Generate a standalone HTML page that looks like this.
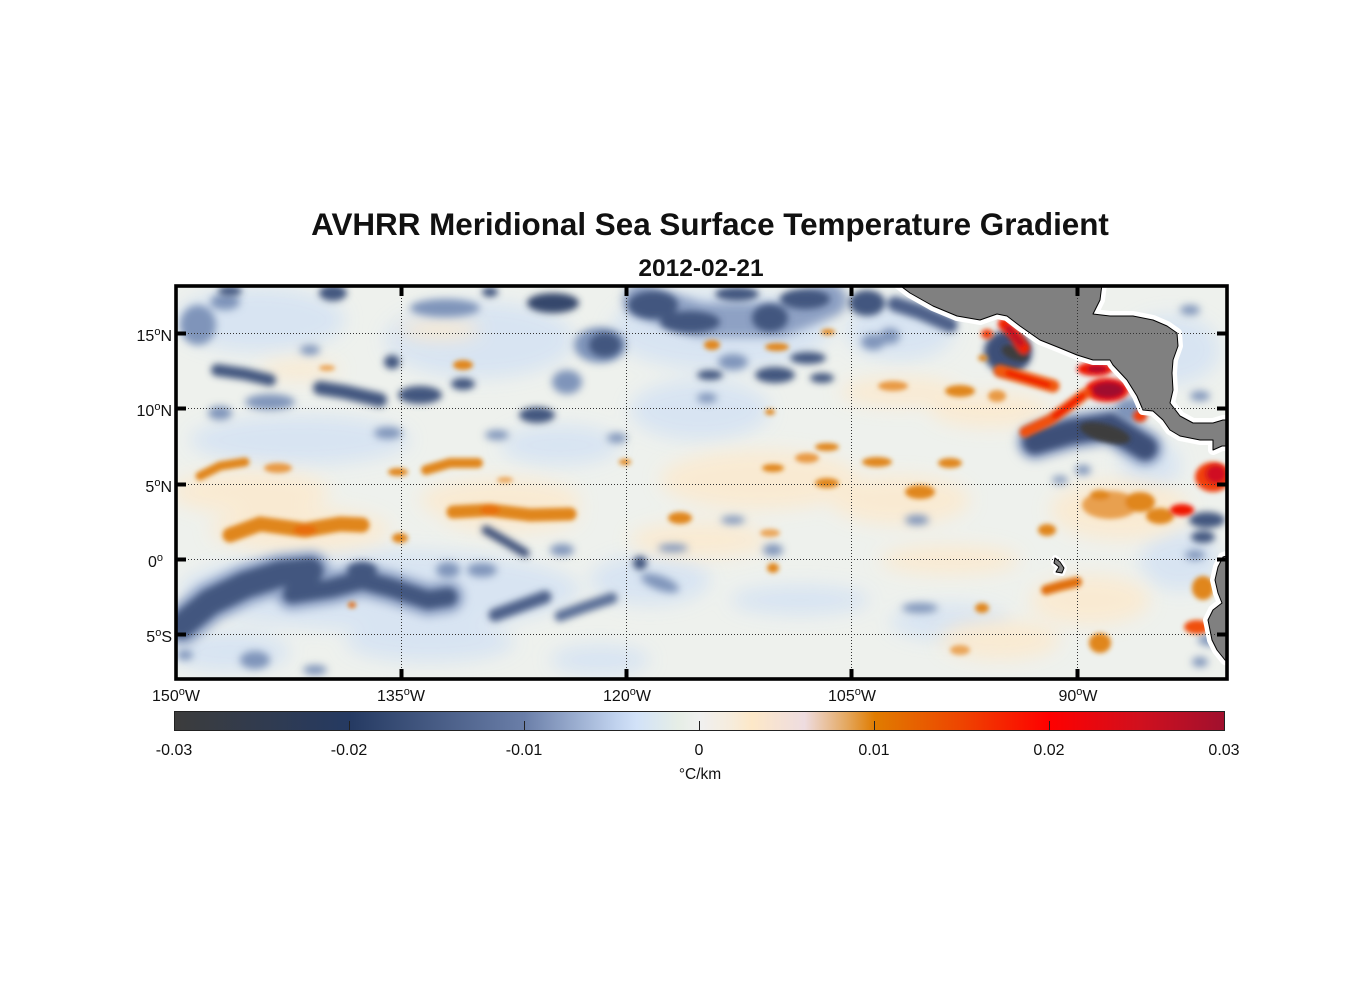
<!DOCTYPE html>
<html>
<head>
<meta charset="utf-8">
<style>
html,body{margin:0;padding:0;background:#fff;}
svg{display:block;}
text{font-family:"Liberation Sans",Arial,sans-serif;fill:#111;}
</style>
</head>
<body>
<svg width="1356" height="1000" viewBox="0 0 1356 1000" xmlns="http://www.w3.org/2000/svg">
<defs>
  <clipPath id="mapclip"><rect x="176" y="286" width="1051" height="393"/></clipPath>
  <filter id="b8" x="-50%" y="-50%" width="200%" height="200%"><feGaussianBlur stdDeviation="9"/></filter>
  <filter id="b5" x="-50%" y="-50%" width="200%" height="200%"><feGaussianBlur stdDeviation="5"/></filter>
  <filter id="b4" x="-50%" y="-50%" width="200%" height="200%"><feGaussianBlur stdDeviation="4"/></filter>
  <filter id="b3" x="-50%" y="-50%" width="200%" height="200%"><feGaussianBlur stdDeviation="3.5"/></filter>
  <filter id="b2" x="-50%" y="-50%" width="200%" height="200%"><feGaussianBlur stdDeviation="2.3"/></filter>
  <linearGradient id="cmap" x1="0" x2="1" y1="0" y2="0">
    <stop offset="0" stop-color="#3c3c3c"/>
    <stop offset="0.167" stop-color="#253a62"/>
    <stop offset="0.333" stop-color="#6a7ea8"/>
    <stop offset="0.42" stop-color="#c0d2ee"/>
    <stop offset="0.44" stop-color="#d2e2f8"/>
    <stop offset="0.48" stop-color="#e6eee6"/>
    <stop offset="0.5" stop-color="#f0f0f0"/>
    <stop offset="0.53" stop-color="#f6ecdc"/>
    <stop offset="0.55" stop-color="#fde8c8"/>
    <stop offset="0.6" stop-color="#eedce0"/>
    <stop offset="0.64" stop-color="#e4a860"/>
    <stop offset="0.667" stop-color="#e07c00"/>
    <stop offset="0.75" stop-color="#ee4400"/>
    <stop offset="0.833" stop-color="#ff0000"/>
    <stop offset="0.92" stop-color="#d0101e"/>
    <stop offset="1" stop-color="#a0102e"/>
  </linearGradient>
</defs>

<!-- Title -->
<text x="710" y="235" text-anchor="middle" font-size="31.4" font-weight="bold">AVHRR Meridional Sea Surface Temperature Gradient</text>
<text x="701" y="276" text-anchor="middle" font-size="24.5" font-weight="bold">2012-02-21</text>

<g clip-path="url(#mapclip)">
  <rect x="176" y="286" width="1051" height="393" fill="#eef1ed"/>

  <!-- broad light blue -->
  <g filter="url(#b8)" fill="#d6e3f3" opacity="0.9">
    <ellipse cx="260" cy="320" rx="85" ry="32"/>
    <ellipse cx="480" cy="340" rx="95" ry="38"/>
    <ellipse cx="300" cy="440" rx="110" ry="25"/>
    <ellipse cx="700" cy="410" rx="70" ry="30"/>
    <ellipse cx="560" cy="445" rx="60" ry="20"/>
    <ellipse cx="900" cy="330" rx="55" ry="30"/>
    <ellipse cx="230" cy="652" rx="60" ry="20"/>
    <ellipse cx="430" cy="642" rx="85" ry="20"/>
    <ellipse cx="800" cy="600" rx="70" ry="15"/>
    <ellipse cx="950" cy="622" rx="60" ry="18"/>
    <ellipse cx="1150" cy="465" rx="30" ry="25"/>
    <ellipse cx="1180" cy="560" rx="40" ry="30"/>
    <ellipse cx="600" cy="660" rx="50" ry="15"/>
    <ellipse cx="380" cy="590" rx="200" ry="40"/>
    <ellipse cx="1170" cy="350" rx="50" ry="35"/>
    <ellipse cx="650" cy="580" rx="60" ry="25"/>
    <ellipse cx="720" cy="330" rx="110" ry="40"/>
  </g>
  <!-- broad cream -->
  <g filter="url(#b8)" fill="#fbead0" opacity="0.9">
    <ellipse cx="250" cy="492" rx="80" ry="22"/>
    <ellipse cx="500" cy="500" rx="80" ry="22"/>
    <ellipse cx="760" cy="480" rx="100" ry="30"/>
    <ellipse cx="900" cy="500" rx="70" ry="25"/>
    <ellipse cx="1120" cy="510" rx="70" ry="30"/>
    <ellipse cx="700" cy="540" rx="70" ry="18"/>
    <ellipse cx="950" cy="560" rx="70" ry="15"/>
    <ellipse cx="1000" cy="640" rx="60" ry="20"/>
    <ellipse cx="300" cy="370" rx="40" ry="10"/>
    <ellipse cx="440" cy="330" rx="40" ry="10"/>
    <ellipse cx="900" cy="392" rx="60" ry="15"/>
    <ellipse cx="990" cy="410" rx="60" ry="18"/>
    <ellipse cx="300" cy="530" rx="90" ry="22"/>
    <ellipse cx="510" cy="515" rx="70" ry="18"/>
    <ellipse cx="1090" cy="600" rx="60" ry="25"/>
  </g>

  <!-- soft underlay for dark bands -->
  <g filter="url(#b5)" fill="none" stroke="#8ea1c4" stroke-linecap="round">
    <polyline points="182,625 210,602 245,585 280,574 310,571" stroke-width="40"/>
    <polyline points="292,594 332,588 362,580 392,588 428,600 448,597" stroke-width="32"/>
    <polyline points="1035,442 1070,432 1110,426 1145,448" stroke-width="36"/>
    <polyline points="640,300 700,320 780,320 830,300" stroke-width="34"/>
  </g>

  <!-- medium blue -->
  <g filter="url(#b4)" fill="#7f94ba">
    <ellipse cx="198" cy="325" rx="18" ry="20"/>
    <ellipse cx="225" cy="302" rx="15" ry="8"/>
    <ellipse cx="310" cy="350" rx="10" ry="5"/>
    <ellipse cx="270" cy="402" rx="25" ry="8"/>
    <ellipse cx="220" cy="413" rx="12" ry="7"/>
    <ellipse cx="388" cy="433" rx="14" ry="6"/>
    <ellipse cx="497" cy="435" rx="12" ry="5"/>
    <ellipse cx="567" cy="382" rx="15" ry="12"/>
    <ellipse cx="617" cy="438" rx="10" ry="5"/>
    <ellipse cx="707" cy="398" rx="10" ry="5"/>
    <ellipse cx="733" cy="362" rx="15" ry="8"/>
    <ellipse cx="873" cy="342" rx="12" ry="8"/>
    <ellipse cx="890" cy="336" rx="10" ry="8"/>
    <ellipse cx="1190" cy="310" rx="10" ry="5"/>
    <ellipse cx="1200" cy="396" rx="10" ry="5"/>
    <ellipse cx="1083" cy="470" rx="8" ry="5"/>
    <ellipse cx="660" cy="583" rx="20" ry="7" transform="rotate(20 660 583)"/>
    <ellipse cx="673" cy="548" rx="15" ry="4"/>
    <ellipse cx="733" cy="520" rx="12" ry="4"/>
    <ellipse cx="773" cy="550" rx="10" ry="6"/>
    <ellipse cx="917" cy="520" rx="12" ry="5"/>
    <ellipse cx="920" cy="608" rx="18" ry="5"/>
    <ellipse cx="185" cy="655" rx="8" ry="5"/>
    <ellipse cx="255" cy="660" rx="15" ry="9"/>
    <ellipse cx="315" cy="670" rx="12" ry="5"/>
    <ellipse cx="1210" cy="640" rx="12" ry="6"/>
    <ellipse cx="1200" cy="662" rx="8" ry="5"/>
    <ellipse cx="448" cy="570" rx="12" ry="8"/>
    <ellipse cx="482" cy="570" rx="15" ry="7"/>
    <ellipse cx="562" cy="550" rx="12" ry="6"/>
    <ellipse cx="445" cy="308" rx="35" ry="9"/>
    <ellipse cx="600" cy="345" rx="26" ry="18"/>
    <ellipse cx="1130" cy="410" rx="15" ry="12"/>
    <ellipse cx="1195" cy="555" rx="10" ry="5"/>
    <ellipse cx="1060" cy="480" rx="8" ry="4"/>
  </g>

  <!-- dark blue -->
  <g filter="url(#b3)" fill="#43577f">
    <ellipse cx="333" cy="293" rx="14" ry="8"/>
    <ellipse cx="230" cy="291" rx="12" ry="5"/>
    <polyline points="217,370 245,374 270,380" fill="none" stroke="#43577f" stroke-width="12" stroke-linecap="round"/>
    <polyline points="320,388 345,392 380,400" fill="none" stroke="#43577f" stroke-width="14" stroke-linecap="round"/>
    <ellipse cx="392" cy="362" rx="8" ry="7"/>
    <ellipse cx="420" cy="395" rx="22" ry="9"/>
    <ellipse cx="463" cy="384" rx="12" ry="6"/>
    <ellipse cx="553" cy="303" rx="26" ry="10" fill="#34476c"/>
    <ellipse cx="490" cy="292" rx="8" ry="5"/>
    <ellipse cx="537" cy="415" rx="18" ry="8"/>
    <ellipse cx="605" cy="345" rx="16" ry="12"/>
    <ellipse cx="653" cy="305" rx="25" ry="14"/>
    <ellipse cx="690" cy="322" rx="30" ry="11"/>
    <ellipse cx="737" cy="294" rx="22" ry="7"/>
    <ellipse cx="770" cy="318" rx="18" ry="14"/>
    <ellipse cx="805" cy="299" rx="25" ry="10"/>
    <ellipse cx="710" cy="375" rx="13" ry="5"/>
    <ellipse cx="775" cy="375" rx="20" ry="8"/>
    <ellipse cx="808" cy="358" rx="18" ry="6"/>
    <ellipse cx="822" cy="378" rx="12" ry="5"/>
    <ellipse cx="867" cy="303" rx="18" ry="13"/>
    <polyline points="895,304 920,312 950,325" fill="none" stroke="#4d6189" stroke-width="15" stroke-linecap="round"/>
    <ellipse cx="1008" cy="352" rx="24" ry="22" fill="#3d5078"/>
    <polyline points="1035,442 1070,432 1110,426 1145,448" fill="none" stroke="#3d5078" stroke-width="24" stroke-linecap="round"/>
    <ellipse cx="1207" cy="520" rx="18" ry="8"/>
    <ellipse cx="1203" cy="537" rx="12" ry="6"/>
    <polyline points="182,625 210,602 245,585 280,574 310,571" fill="none" stroke="#43577f" stroke-width="26" stroke-linecap="round"/>
    <polyline points="292,594 332,588 362,580 392,588 428,600 448,597" fill="none" stroke="#43577f" stroke-width="18" stroke-linecap="round"/>
    <ellipse cx="362" cy="570" rx="15" ry="8"/>
    <polyline points="495,615 520,606 545,597" fill="none" stroke="#4d6189" stroke-width="13" stroke-linecap="round"/>
    <polyline points="560,616 585,607 612,598" fill="none" stroke="#5b6f97" stroke-width="11" stroke-linecap="round"/>
    <polyline points="486,530 505,541 525,553" fill="none" stroke="#3d5078" stroke-width="9" stroke-linecap="round"/>
    <ellipse cx="640" cy="563" rx="7" ry="7"/>
  </g>

  <!-- orange family -->
  <g filter="url(#b2)" fill="#e0861c">
    <ellipse cx="463" cy="365" rx="10" ry="5"/>
    <ellipse cx="712" cy="345" rx="8" ry="5"/>
    <ellipse cx="777" cy="347" rx="12" ry="4"/>
    <ellipse cx="828" cy="332" rx="7" ry="3"/>
    <ellipse cx="893" cy="386" rx="15" ry="5" fill="#e89a45"/>
    <ellipse cx="960" cy="391" rx="15" ry="6"/>
    <ellipse cx="997" cy="396" rx="9" ry="6" fill="#e89a45"/>
    <ellipse cx="770" cy="412" rx="5" ry="3"/>
    <ellipse cx="327" cy="368" rx="8" ry="3" fill="#eaa65a"/>
    <polyline points="200,476 220,466 245,462" fill="none" stroke="#e0861c" stroke-width="9" stroke-linecap="round"/>
    <ellipse cx="278" cy="468" rx="14" ry="5" fill="#e89a45"/>
    <ellipse cx="398" cy="472" rx="10" ry="4"/>
    <polyline points="426,470 450,463 478,463" fill="none" stroke="#e0861c" stroke-width="10" stroke-linecap="round"/>
    <ellipse cx="505" cy="480" rx="8" ry="3" fill="#eaa65a"/>
    <ellipse cx="625" cy="462" rx="6" ry="3"/>
    <polyline points="230,535 260,524 305,530 340,524 362,525" fill="none" stroke="#e0861c" stroke-width="15" stroke-linecap="round"/>
    <ellipse cx="305" cy="530" rx="12" ry="5" fill="#e86c10"/>
    <ellipse cx="400" cy="538" rx="8" ry="5"/>
    <polyline points="453,512 490,510 530,515 570,514" fill="none" stroke="#e0861c" stroke-width="13" stroke-linecap="round"/>
    <ellipse cx="490" cy="510" rx="10" ry="5" fill="#e87010"/>
    <ellipse cx="352" cy="605" rx="4" ry="3" fill="#e06a10"/>
    <ellipse cx="827" cy="447" rx="12" ry="4"/>
    <ellipse cx="807" cy="458" rx="12" ry="5" fill="#e89a45"/>
    <ellipse cx="773" cy="468" rx="11" ry="4"/>
    <ellipse cx="877" cy="462" rx="15" ry="5"/>
    <ellipse cx="950" cy="463" rx="12" ry="5"/>
    <ellipse cx="827" cy="483" rx="12" ry="5"/>
    <ellipse cx="920" cy="492" rx="15" ry="7"/>
    <ellipse cx="680" cy="518" rx="12" ry="6"/>
    <ellipse cx="770" cy="533" rx="10" ry="4" fill="#eaa65a"/>
    <ellipse cx="1047" cy="530" rx="9" ry="6"/>
    <ellipse cx="773" cy="568" rx="6" ry="5"/>
    <ellipse cx="982" cy="608" rx="7" ry="5"/>
    <polyline points="1046,590 1060,586 1077,582" fill="none" stroke="#e07010" stroke-width="10" stroke-linecap="round"/>
    <ellipse cx="1100" cy="643" rx="11" ry="10"/>
    <ellipse cx="960" cy="650" rx="10" ry="5" fill="#eaa65a"/>
    <ellipse cx="1203" cy="588" rx="11" ry="12"/>
    <ellipse cx="1110" cy="505" rx="28" ry="14" fill="#e8a050"/>
    <ellipse cx="1140" cy="502" rx="15" ry="10"/>
    <ellipse cx="1160" cy="516" rx="14" ry="8"/>
    <ellipse cx="1100" cy="495" rx="10" ry="5"/>
    <ellipse cx="983" cy="358" rx="5" ry="3"/>
    <ellipse cx="1213" cy="477" rx="18" ry="15" fill="#f04010"/>
    <ellipse cx="1197" cy="627" rx="13" ry="7" fill="#f05010"/>
  </g>

  <!-- reds, dark grey cores -->
  <g filter="url(#b2)">
    <ellipse cx="1015" cy="353" rx="14" ry="7" fill="#3c3c3c" transform="rotate(20 1015 353)"/>
    <ellipse cx="1105" cy="433" rx="26" ry="9" fill="#3c3c3c" transform="rotate(15 1105 433)"/>
    <polyline points="1004,324 1014,334 1024,348" fill="none" stroke="#f02000" stroke-width="12" stroke-linecap="round"/>
    <polyline points="1008,328 1015,336 1021,344" fill="none" stroke="#b0102a" stroke-width="5" stroke-linecap="round"/>
    <ellipse cx="987" cy="334" rx="6" ry="5" fill="#f04010"/>
    <polyline points="1000,371 1025,378 1053,386" fill="none" stroke="#f05a10" stroke-width="13" stroke-linecap="round"/>
    <polyline points="1008,373 1028,379 1048,385" fill="none" stroke="#f01800" stroke-width="6" stroke-linecap="round"/>
    <ellipse cx="1095" cy="369" rx="18" ry="7" fill="#f01800"/>
    <ellipse cx="1097" cy="369" rx="10" ry="3" fill="#a0102e"/>
    <ellipse cx="1107" cy="390" rx="22" ry="12" fill="#f01800"/>
    <ellipse cx="1108" cy="390" rx="16" ry="8" fill="#a0102e"/>
    <polyline points="1025,432 1050,420 1070,405 1085,394" fill="none" stroke="#f05010" stroke-width="11" stroke-linecap="round"/>
    <polyline points="1055,416 1070,405 1082,396" fill="none" stroke="#f01800" stroke-width="6" stroke-linecap="round"/>
    <ellipse cx="1140" cy="416" rx="7" ry="6" fill="#f04010"/>
    <ellipse cx="1216" cy="474" rx="10" ry="9" fill="#d01020"/>
    <ellipse cx="1182" cy="510" rx="12" ry="6" fill="#f01800"/>
  </g>

  <!-- land halo -->
  <g fill="#fff" stroke="#fff" stroke-width="10" stroke-linejoin="round">
    <polygon points="898,284 910,293 933,306 957,316 980,320 997,314 1007,316 1020,326 1040,340 1060,348 1077,355 1093,360 1110,360 1113,365 1127,380 1137,396 1143,410 1153,411 1163,420 1170,430 1180,436 1200,440 1213,440 1213,450 1222,446 1230,446 1230,420 1223,420 1213,423 1193,423 1180,416 1170,403 1173,390 1172,373 1173,360 1178,346 1177,333 1167,326 1153,320 1133,316 1110,316 1093,314 1100,300 1102,284"/>
    <polygon points="1230,555 1223,557 1218,567 1215,580 1218,593 1222,603 1213,610 1208,620 1212,640 1217,650 1225,660 1230,662"/>
    <polygon points="1055,558 1060,562 1064,568 1062,573 1056,572 1059,567 1054,563" stroke-width="6"/>
  </g>
  <!-- land -->
  <g fill="#808080" stroke="#000" stroke-width="1" stroke-linejoin="round">
    <polygon points="898,284 910,293 933,306 957,316 980,320 997,314 1007,316 1020,326 1040,340 1060,348 1077,355 1093,360 1110,360 1113,365 1127,380 1137,396 1143,410 1153,411 1163,420 1170,430 1180,436 1200,440 1213,440 1213,450 1222,446 1230,446 1230,420 1223,420 1213,423 1193,423 1180,416 1170,403 1173,390 1172,373 1173,360 1178,346 1177,333 1167,326 1153,320 1133,316 1110,316 1093,314 1100,300 1102,284"/>
    <polygon points="1230,555 1223,557 1218,567 1215,580 1218,593 1222,603 1213,610 1208,620 1212,640 1217,650 1225,660 1230,662"/>
    <polygon points="1055,558 1060,562 1064,568 1062,573 1056,572 1059,567 1054,563"/>
  </g>

  <!-- grid -->
  <g stroke="#333" stroke-width="1" stroke-dasharray="1,2" fill="none">
    <line x1="401.5" y1="286" x2="401.5" y2="679"/>
    <line x1="626.5" y1="286" x2="626.5" y2="679"/>
    <line x1="851.5" y1="286" x2="851.5" y2="679"/>
    <line x1="1077.5" y1="286" x2="1077.5" y2="679"/>
    <line x1="176" y1="333.5" x2="1227" y2="333.5"/>
    <line x1="176" y1="408.5" x2="1227" y2="408.5"/>
    <line x1="176" y1="484.5" x2="1227" y2="484.5"/>
    <line x1="176" y1="559.5" x2="1227" y2="559.5"/>
    <line x1="176" y1="634.5" x2="1227" y2="634.5"/>
  </g>
</g>

<!-- frame -->
<rect x="176" y="286" width="1051" height="393" fill="none" stroke="#000" stroke-width="3.6"/>
<!-- ticks -->
<g stroke="#000" stroke-width="4">
  <line x1="176" y1="333.5" x2="186" y2="333.5"/>
  <line x1="176" y1="408.5" x2="186" y2="408.5"/>
  <line x1="176" y1="484.5" x2="186" y2="484.5"/>
  <line x1="176" y1="559.5" x2="186" y2="559.5"/>
  <line x1="176" y1="634.5" x2="186" y2="634.5"/>
  <line x1="1227" y1="333.5" x2="1217" y2="333.5"/>
  <line x1="1227" y1="408.5" x2="1217" y2="408.5"/>
  <line x1="1227" y1="484.5" x2="1217" y2="484.5"/>
  <line x1="1227" y1="559.5" x2="1217" y2="559.5"/>
  <line x1="1227" y1="634.5" x2="1217" y2="634.5"/>
  <line x1="401.5" y1="286" x2="401.5" y2="296"/>
  <line x1="626.5" y1="286" x2="626.5" y2="296"/>
  <line x1="851.5" y1="286" x2="851.5" y2="296"/>
  <line x1="1077.5" y1="286" x2="1077.5" y2="296"/>
  <line x1="401.5" y1="679" x2="401.5" y2="669"/>
  <line x1="626.5" y1="679" x2="626.5" y2="669"/>
  <line x1="851.5" y1="679" x2="851.5" y2="669"/>
  <line x1="1077.5" y1="679" x2="1077.5" y2="669"/>
</g>

<!-- lat labels -->
<g font-size="16">
  <text x="172" y="341" text-anchor="end">15<tspan dy="-6" font-size="11">o</tspan><tspan dy="6">N</tspan></text>
  <text x="172" y="416" text-anchor="end">10<tspan dy="-6" font-size="11">o</tspan><tspan dy="6">N</tspan></text>
  <text x="172" y="492" text-anchor="end">5<tspan dy="-6" font-size="11">o</tspan><tspan dy="6">N</tspan></text>
  <text x="148" y="567">0<tspan dy="-6" font-size="11">o</tspan></text>
  <text x="172" y="642" text-anchor="end">5<tspan dy="-6" font-size="11">o</tspan><tspan dy="6">S</tspan></text>
</g>
<!-- lon labels -->
<g font-size="16" text-anchor="middle">
  <text x="176" y="701">150<tspan dy="-6" font-size="11">o</tspan><tspan dy="6">W</tspan></text>
  <text x="401" y="701">135<tspan dy="-6" font-size="11">o</tspan><tspan dy="6">W</tspan></text>
  <text x="627" y="701">120<tspan dy="-6" font-size="11">o</tspan><tspan dy="6">W</tspan></text>
  <text x="852" y="701">105<tspan dy="-6" font-size="11">o</tspan><tspan dy="6">W</tspan></text>
  <text x="1078" y="701">90<tspan dy="-6" font-size="11">o</tspan><tspan dy="6">W</tspan></text>
</g>

<!-- colorbar -->
<rect x="174.5" y="711.5" width="1050" height="19" fill="url(#cmap)" stroke="#222" stroke-width="1"/>
<g stroke="#222" stroke-width="1">
  <line x1="349.5" y1="730" x2="349.5" y2="721"/>
  <line x1="524.5" y1="730" x2="524.5" y2="721"/>
  <line x1="699.5" y1="730" x2="699.5" y2="721"/>
  <line x1="874.5" y1="730" x2="874.5" y2="721"/>
  <line x1="1049.5" y1="730" x2="1049.5" y2="721"/>
</g>
<g font-size="16" text-anchor="middle" fill="#222">
  <text x="174" y="755">-0.03</text>
  <text x="349" y="755">-0.02</text>
  <text x="524" y="755">-0.01</text>
  <text x="699" y="755">0</text>
  <text x="874" y="755">0.01</text>
  <text x="1049" y="755">0.02</text>
  <text x="1224" y="755">0.03</text>
  <text x="700" y="779" font-size="15.5">°C/km</text>
</g>
</svg>
</body>
</html>
